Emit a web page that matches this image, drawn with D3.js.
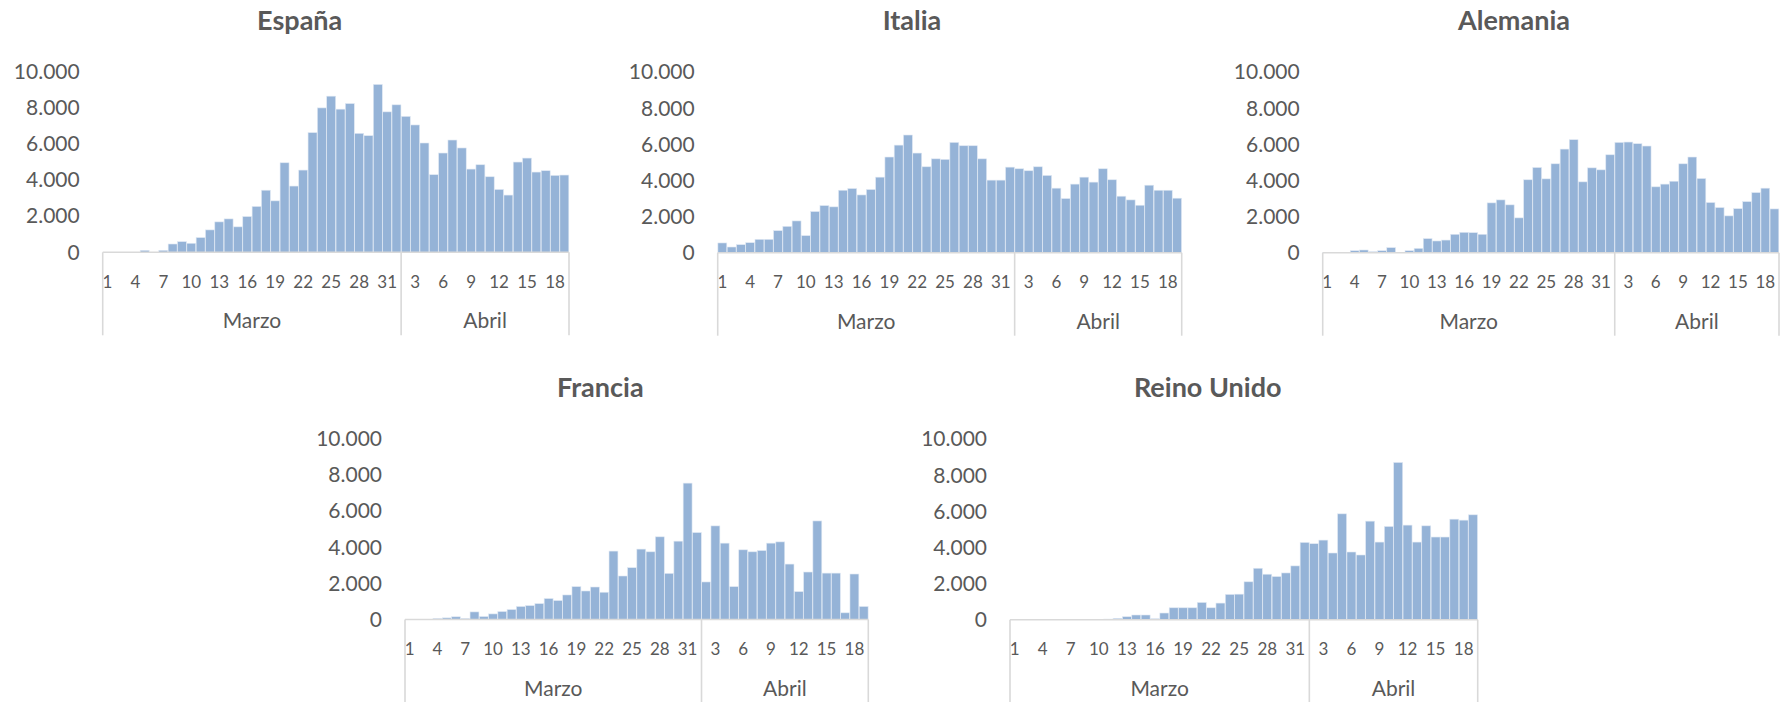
<!DOCTYPE html>
<html>
<head>
<meta charset="utf-8">
<script src="https://cdn.jsdelivr.net/npm/d3@7"></script>
<style>
  body { margin: 0; background: #fff; }
  svg text { font-family: Lato, "Open Sans", sans-serif; fill: #595959; }
</style>
</head>
<body>
<div id="chart"></div>
<script>
// Day labels: 1-31 March, 1-19 April
const days = ['1','2','3','4','5','6','7','8','9','10','11','12','13','14','15','16','17','18','19','20',
  '21','22','23','24','25','26','27','28','29','30','31',
  '1','2','3','4','5','6','7','8','9','10','11','12','13','14','15','16','17','18','19']

// month groups as drawn on the axis (number of bars under each label)
const months = ['Marzo', 'Abril']
const monthSpan = [32, 18]

const yTicks = [0, 2000, 4000, 6000, 8000, 10000]

const espana = [0, 0, 0, 0, 110, 0, 110, 460, 590, 500, 815, 1240, 1685, 1850, 1410, 1980, 2540, 3440, 2850, 4960,
  3670, 4555, 6630, 8000, 8650, 7930, 8240, 6590, 6460, 9300, 7780, 8170, 7530, 7055, 6055, 4300, 5500, 6220, 5780, 4610,
  4850, 4185, 3480, 3170, 5000, 5220, 4445, 4520, 4260, 4280]

const italia = [540, 315, 445, 555, 740, 740, 1220, 1460, 1760, 945, 2280, 2610, 2540, 3460, 3555, 3200, 3500, 4185, 5300, 5960,
  6520, 5520, 4760, 5200, 5170, 6110, 5925, 5925, 5200, 4020, 4020, 4740, 4650, 4540, 4760, 4280, 3575, 3000, 3800, 4185,
  3910, 4650, 4040, 3130, 2925, 2630, 3740, 3460, 3460, 3020]

const alemania = [20, 20, 20, 110, 150, 55, 110, 280, 0, 110, 240, 780, 650, 700, 1020, 1130, 1110, 1020, 2760, 2925,
  2650, 1930, 4040, 4720, 4090, 4925, 5740, 6260, 3925, 4700, 4590, 5425, 6110, 6130, 6040, 5910, 3650, 3800, 3960, 4925,
  5300, 4110, 2780, 2500, 2040, 2440, 2830, 3330, 3575, 2425]

const francia = [0, 0, 0, 55, 90, 150, 55, 420, 165, 310, 440, 550, 720, 770, 880, 1160, 1050, 1360, 1820, 1580,
  1800, 1510, 3790, 2410, 2870, 3900, 3750, 4580, 2555, 4340, 7555, 4815, 2080, 5185, 4230, 1820, 3860, 3750, 3820, 4230,
  4300, 3070, 1545, 2630, 5460, 2570, 2570, 370, 2520, 720]

const reinoUnido = [0, 0, 0, 0, 0, 0, 0, 0, 0, 0, 35, 75, 165, 260, 260, 55, 370, 660, 660, 660,
  955, 660, 920, 1400, 1415, 2100, 2850, 2520, 2390, 2590, 2980, 4280, 4210, 4410, 3695, 5865, 3750, 3585, 5460, 4300,
  5165, 8710, 5240, 4300, 5200, 4580, 4580, 5570, 5515, 5810]

const panels = [
  { title: 'España', values: espana, left: 102.7, width: 466.3, base: 252.3, titleX: 299.7 },
  { title: 'Italia', values: italia, left: 717.7, width: 464, base: 252.7, titleX: 912 },
  { title: 'Alemania', values: alemania, left: 1322.7, width: 456.3, base: 252.7, titleX: 1514 },
  { title: 'Francia', values: francia, left: 405, width: 463.3, base: 619.5, titleX: 600.3 },
  { title: 'Reino Unido', values: reinoUnido, left: 1010, width: 467.7, base: 619.7, titleX: 1207.7 }
]

const width = 1780
const height = 702
const plotH = 180.5

const fmt = d3.formatLocale({ decimal: ',', thousands: '.', grouping: [3], currency: ['', ''] }).format(',d')

const svg = d3.select('#chart')
  .append('svg')
  .attr('width', width)
  .attr('height', height)

svg.append('rect').attr('width', width).attr('height', height).attr('fill', '#fff')

panels.forEach(p => drawPanel(p))

function drawPanel(p) {
  const g = svg.append('g')

  const x = d3.scaleBand()
    .domain(d3.range(days.length))
    .range([p.left, p.left + p.width])
    .paddingInner(0.04)
    .paddingOuter(0.02)

  const y = d3.scaleLinear()
    .domain([0, 10000])
    .range([p.base, p.base - plotH])

  // title
  g.append('text')
    .attr('x', p.titleX)
    .attr('y', p.base - 222.4)
    .attr('text-anchor', 'middle')
    .style('font-size', '27px')
    .style('font-weight', 'bold')
    .text(p.title)

  // y axis labels only
  const yAxis = g.append('g')
    .attr('transform', `translate(${p.left},0)`)
    .call(d3.axisLeft(y).tickValues(yTicks).tickFormat(fmt).tickSize(0).tickPadding(23))
  yAxis.select('.domain').remove()
  yAxis.selectAll('text')
    .style('font-size', '21px')
    .attr('fill', '#595959')

  // bars
  g.selectAll('.bar')
    .data(p.values)
    .join('rect')
    .attr('class', 'bar')
    .attr('x', (d, i) => x(i))
    .attr('width', x.bandwidth())
    .attr('y', d => y(d))
    .attr('height', d => p.base - y(d))
    .attr('fill', '#95b3d7')
    .attr('stroke', '#dfe8f3')
    .attr('stroke-width', 0.6)

  // x axis: day labels every 3rd category
  const step = x.step()
  const xAxis = g.append('g')
    .attr('transform', `translate(0,${p.base})`)
    .call(d3.axisBottom(x)
      .tickValues(d3.range(0, days.length, 3))
      .tickFormat(i => days[i])
      .tickSize(0)
      .tickPadding(23.5))
  xAxis.select('.domain')
    .attr('d', `M${p.left},0H${p.left + p.width}`)
    .attr('stroke', '#d9d9d9')
    .attr('stroke-width', 1.6)
  xAxis.selectAll('text')
    .style('font-size', '17px')
    .attr('fill', '#595959')

  // month group separators and labels
  let start = 0
  const bounds = [0]
  monthSpan.forEach(n => { start += n; bounds.push(start) })
  g.selectAll('.sep')
    .data(bounds)
    .join('line')
    .attr('class', 'sep')
    .attr('x1', b => p.left + b * step)
    .attr('x2', b => p.left + b * step)
    .attr('y1', p.base)
    .attr('y2', p.base + 83)
    .attr('stroke', '#d9d9d9')
    .attr('stroke-width', 1.6)

  g.selectAll('.month')
    .data(months)
    .join('text')
    .attr('class', 'month')
    .attr('x', (m, k) => p.left + (bounds[k] + bounds[k + 1]) / 2 * step)
    .attr('y', p.base + 76)
    .attr('text-anchor', 'middle')
    .style('font-size', '21px')
    .text(m => m)
}
</script>
</body>
</html>
